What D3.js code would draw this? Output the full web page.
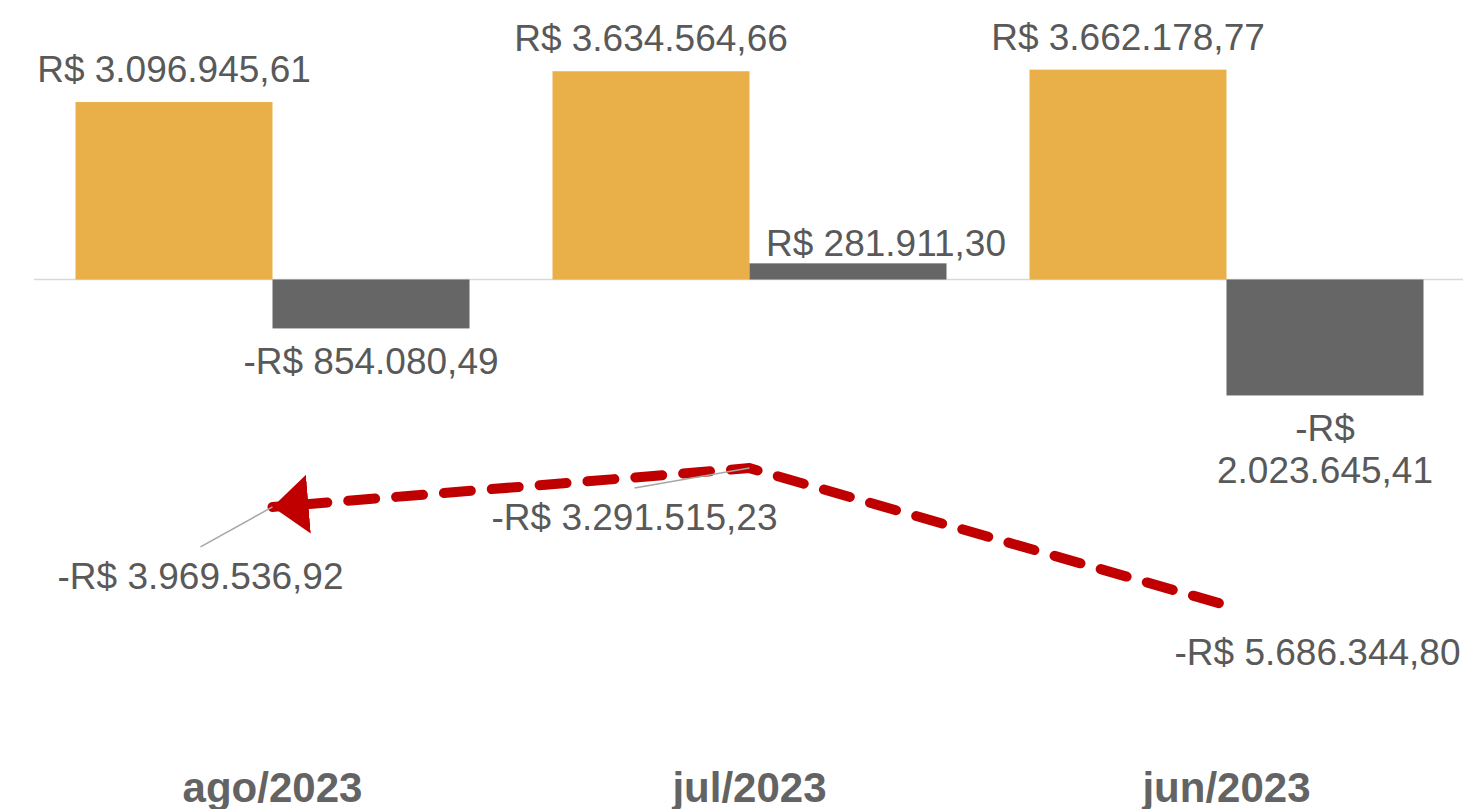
<!DOCTYPE html>
<html>
<head>
<meta charset="utf-8">
<script src="https://cdn.jsdelivr.net/npm/d3@7"></script>
<style>
  body { margin: 0; background: #fff; }
  svg { display: block; }
  text { font-family: "Liberation Sans", Arial, sans-serif; }
</style>
</head>
<body>
<div id="display"></div>
<script>
var categories = ["ago/2023", "jul/2023", "jun/2023"];
var receitas = [3096945.61, 3634564.66, 3662178.77];      // barras laranja
var resultado = [-854080.49, 281911.30, -2023645.41];     // barras cinza
var acumulado = [-3969536.92, -3291515.23, -5686344.80];  // linha tracejada

// ajustes manuais dos rotulos (como no excel)
var lineLabelNudge = [[-72, 82], [-115, 62], [91, 60]];
var lineLeader = [true, true, false];
var grayLabelShift = [0, 38, 0];

var width = 1463, height = 809;
var textColor = "#595959";
var labelSize = "37px";

var ptBR = d3.formatLocale({
  decimal: ",", thousands: ".", grouping: [3],
  currency: ["R$ ", ""], minus: "-"
});
var fmt = ptBR.format("$,.2f");

var svg = d3.select("#display")
  .append("svg")
  .attr("width", width)
  .attr("height", height);

var x = d3.scaleBand()
  .domain(categories)
  .range([34, 1465])
  .paddingInner(0.174)
  .paddingOuter(0.087);

var x1 = d3.scaleBand()
  .domain(["a", "b"])
  .range([0, x.bandwidth()]);

var y = d3.scaleLinear()
  .domain([-6e6, 4e6])
  .range([623.3, 50.3]);

var defs = svg.append("defs");
defs.append("marker")
  .attr("id", "arrow")
  .attr("markerUnits", "userSpaceOnUse")
  .attr("viewBox", "0 -30 36 60")
  .attr("markerWidth", 36)
  .attr("markerHeight", 60)
  .attr("refX", 36)
  .attr("refY", 0)
  .attr("orient", "auto-start-reverse")
  .append("path")
  .attr("d", "M0,-29.5L36,0L0,29.5Z")
  .attr("fill", "#C00000");

// linha do zero
svg.append("line")
  .attr("x1", x.range()[0]).attr("x2", x.range()[1])
  .attr("y1", y(0)).attr("y2", y(0))
  .attr("stroke", "#d9d9d9")
  .attr("stroke-width", 1.5);

// barras laranja
svg.append("g")
  .attr("fill", "#E9AF48")
  .selectAll("rect")
  .data(receitas)
  .join("rect")
  .attr("x", (d, i) => x(categories[i]) + x1("a"))
  .attr("y", d => y(Math.max(0, d)))
  .attr("width", x1.bandwidth())
  .attr("height", d => Math.abs(y(d) - y(0)));

// barras cinza
svg.append("g")
  .attr("fill", "#666666")
  .selectAll("rect")
  .data(resultado)
  .join("rect")
  .attr("x", (d, i) => x(categories[i]) + x1("b"))
  .attr("y", d => y(Math.max(0, d)))
  .attr("width", x1.bandwidth())
  .attr("height", d => Math.abs(y(d) - y(0)));

// rotulos laranja
svg.append("g")
  .attr("fill", textColor)
  .attr("text-anchor", "middle")
  .style("font-size", labelSize)
  .selectAll("text")
  .data(receitas)
  .join("text")
  .attr("x", (d, i) => x(categories[i]) + x1("a") + x1.bandwidth() / 2)
  .attr("y", d => y(d) - 20)
  .text(d => fmt(d));

// rotulos cinza (quebra em duas linhas se muito largo)
svg.append("g")
  .attr("fill", textColor)
  .attr("text-anchor", "middle")
  .style("font-size", labelSize)
  .selectAll("text")
  .data(resultado)
  .join("text")
  .attr("x", (d, i) => x(categories[i]) + x1("b") + x1.bandwidth() / 2 + grayLabelShift[i])
  .attr("y", d => d >= 0 ? y(d) - 7 : y(d) + 46)
  .text(d => fmt(d))
  .each(function(d) {
    var t = d3.select(this);
    if (this.getComputedTextLength() > 278) {
      var parts = fmt(d).split(" ");
      var cx = t.attr("x");
      t.text(null);
      t.append("tspan").attr("x", cx).text(parts[0]);
      t.append("tspan").attr("x", cx).attr("dy", 42).text(parts.slice(1).join(" "));
    }
  });

// linha tracejada com seta
var pts = acumulado.map((d, i) => [x(categories[i]) + x.bandwidth() / 2, y(d)]);

svg.append("path")
  .datum(pts)
  .attr("d", d3.line())
  .attr("fill", "none")
  .attr("stroke", "#C00000")
  .attr("stroke-width", 10)
  .attr("stroke-linecap", "round")
  .attr("stroke-linejoin", "round")
  .attr("stroke-dasharray", "27,21")
  .attr("stroke-dashoffset", 20)
  .attr("marker-start", "url(#arrow)");

// rotulos da linha + linhas guia
var lab = svg.append("g");
acumulado.forEach(function(d, i) {
  var lx = pts[i][0] + lineLabelNudge[i][0];
  var ly = pts[i][1] + lineLabelNudge[i][1];
  if (lineLeader[i]) {
    lab.append("line")
      .attr("x1", lx).attr("y1", ly - 42)
      .attr("x2", pts[i][0]).attr("y2", pts[i][1])
      .attr("stroke", "#a6a6a6")
      .attr("stroke-width", 1.5);
  }
  lab.append("text")
    .attr("x", lx).attr("y", ly)
    .attr("text-anchor", "middle")
    .attr("fill", textColor)
    .style("font-size", labelSize)
    .text(fmt(d));
});

// eixo de categorias
svg.append("g")
  .attr("fill", "#636363")
  .attr("text-anchor", "middle")
  .style("font-size", "42px")
  .style("font-weight", "bold")
  .selectAll("text")
  .data(categories)
  .join("text")
  .attr("x", d => x(d) + x.bandwidth() / 2)
  .attr("y", 802)
  .text(d => d);
</script>
</body>
</html>
